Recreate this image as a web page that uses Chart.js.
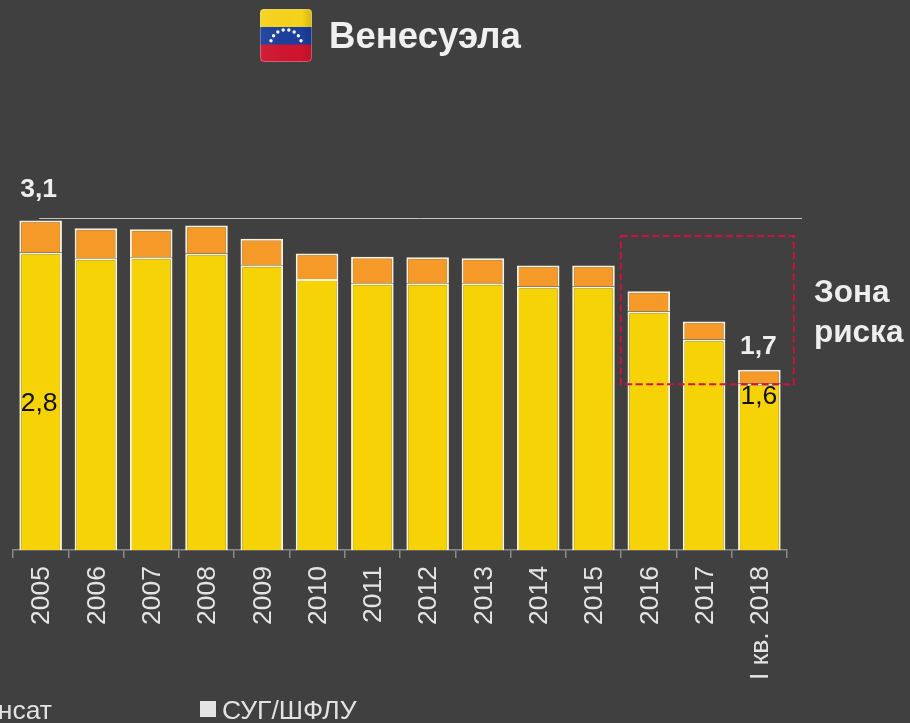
<!DOCTYPE html>
<html lang="ru"><head><meta charset="utf-8">
<title>Венесуэла</title>
<style>html,body{margin:0;padding:0;background:#404040;overflow:hidden}canvas{display:block}</style>
<script src="https://cdn.jsdelivr.net/npm/chart.js@4"></script>
</head><body><canvas id="c" width="910" height="723"></canvas>
<script>
const categories = ['2005','2006','2007','2008','2009','2010','2011','2012','2013','2014','2015','2016','2017','I кв. 2018'];
const crudeValues = [2.80,2.745,2.755,2.79,2.68,2.55,2.51,2.51,2.51,2.48,2.48,2.245,1.98,1.566];
const lpgValues = [0.30,0.283,0.264,0.264,0.25,0.24,0.25,0.245,0.236,0.198,0.198,0.189,0.17,0.13];
const titleText = 'Венесуэла';
const legendClipped = 'конденсат';
const legendLpg = 'СУГ/ШФЛУ';
const riskLabel = ['Зона','риска'];
const referenceLevel = 3.125;
const riskTop = 2.955;
const riskBottom = 1.56;
const FONT = '"Liberation Sans", Arial, sans-serif';

function rr(ctx,x,y,w,h,r){ctx.beginPath();ctx.roundRect(x,y,w,h,r);}

function drawFlag(ctx){
  const x=260,y=9,w=52,h=53;
  ctx.save();
  rr(ctx,x,y,w,h,4);ctx.clip();
  ctx.fillStyle='#f6d31a';ctx.fillRect(x,y,w,18.5);
  ctx.fillStyle='#1c3f9e';ctx.fillRect(x,y+18,w,18);
  ctx.fillStyle='#cf142f';ctx.fillRect(x,y+35.5,w,h-35.5);
  const g=ctx.createLinearGradient(x,0,x+w,0);
  g.addColorStop(0,'rgba(255,255,255,.05)');g.addColorStop(.8,'rgba(0,0,0,0)');g.addColorStop(1,'rgba(0,0,0,.14)');
  ctx.fillStyle=g;ctx.fillRect(x,y,w,h);
  ctx.fillStyle='#f8f8f8';
  const cx=286,cy=45.4,R=15.7;
  for(let i=0;i<8;i++){
    const a=(-163+i*146/7)*Math.PI/180;
    ctx.beginPath();ctx.arc(cx+R*Math.cos(a),cy+R*Math.sin(a),1.7,0,Math.PI*2);ctx.fill();
  }
  ctx.restore();
  ctx.strokeStyle='rgba(220,220,220,.35)';ctx.lineWidth=1;
  rr(ctx,x+.5,y+.5,w-1,h-1,4);ctx.stroke();
}

const overlay = {
  id:'overlay',
  afterDatasetsDraw(chart){
    const {ctx,scales:{x,y}}=chart;
    ctx.save();
    ctx.strokeStyle='#c4c4c4';ctx.lineWidth=1;
    const ly=Math.round(y.getPixelForValue(referenceLevel))+.5;
    ctx.beginPath();ctx.moveTo(x.getPixelForValue(0)-1.5,ly);ctx.lineTo(x.right+15,ly);ctx.stroke();
    ctx.strokeStyle='#d0103f';ctx.lineWidth=2;ctx.setLineDash([7,3.5]);
    const bx=x.getPixelForValue(11)-28,bxr=x.getPixelForValue(13)+34.5;
    const bt=y.getPixelForValue(riskTop),bb=y.getPixelForValue(riskBottom);
    ctx.strokeRect(bx,bt,bxr-bx,bb-bt);
    ctx.setLineDash([]);
    ctx.textBaseline='alphabetic';ctx.textAlign='center';
    const last=categories.length-1;
    ctx.font='bold 26.5px '+FONT;ctx.fillStyle='#eeeeee';
    ctx.fillText((crudeValues[0]+lpgValues[0]).toFixed(1).replace('.',','),x.getPixelForValue(0)-2,197);
    ctx.fillText((crudeValues[last]+lpgValues[last]).toFixed(1).replace('.',','),x.getPixelForValue(last)-1,354);
    ctx.font='26.5px '+FONT;ctx.fillStyle='#111111';
    ctx.fillText(crudeValues[0].toFixed(1).replace('.',','),x.getPixelForValue(0)-1.5,411);
    ctx.fillText(crudeValues[last].toFixed(1).replace('.',','),x.getPixelForValue(last)-0.5,404);
    ctx.textAlign='left';ctx.fillStyle='#f0f0f0';
    ctx.font='bold 36.6px '+FONT;ctx.fillText(titleText,329,48);
    drawFlag(ctx);
    ctx.font='bold 31.5px '+FONT;ctx.fillStyle='#eeeeee';
    ctx.fillText(riskLabel[0],814,302);
    ctx.fillText(riskLabel[1],814,342);
    ctx.font='26.5px '+FONT;ctx.fillStyle='#e2e2e2';
    ctx.textAlign='right';ctx.fillText(legendClipped,52,719);
    ctx.textAlign='left';ctx.fillText(legendLpg,222,719);
    ctx.fillStyle='#e4e4e4';ctx.fillRect(200,701,16,16);
    ctx.restore();
  }
};

new Chart(document.getElementById('c'),{
  type:'bar',
  data:{labels:categories,datasets:[
    {label:'Нефть и конденсат',data:crudeValues,backgroundColor:'#f6d307',borderColor:'#fbf5dc',borderWidth:2,barPercentage:.77,categoryPercentage:1,stack:'s'},
    {label:legendLpg,data:lpgValues,backgroundColor:'#f59a28',borderColor:'#f9f0dd',borderWidth:2,barPercentage:.77,categoryPercentage:1,stack:'s'}
  ]},
  options:{
    responsive:false,animation:false,
    layout:{padding:{left:13,right:123,top:211,bottom:0}},
    plugins:{legend:{display:false},tooltip:{enabled:false},title:{display:false}},
    scales:{
      x:{stacked:true,offset:true,
        afterFit(s){s.height=173;},
        border:{color:'#8a8a8a',width:1.5},
        grid:{offset:true,drawOnChartArea:false,drawTicks:true,tickLength:8,color:'#8a8a8a',lineWidth:1.5},
        ticks:{autoSkip:false,minRotation:90,maxRotation:90,color:'#e4e4e4',padding:8,labelOffset:1.5,font:{family:FONT,size:26.5}}
      },
      y:{stacked:true,display:false,min:0,max:3.19}
    }
  },
  plugins:[overlay]
});
</script></body></html>
